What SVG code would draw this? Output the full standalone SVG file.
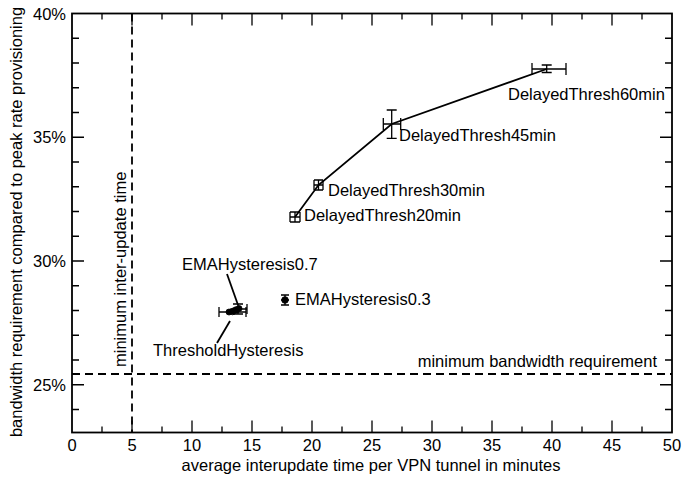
<svg xmlns="http://www.w3.org/2000/svg" width="699" height="477" viewBox="0 0 699 477">
<style>
text{font-family:"Liberation Sans",Arial,Helvetica,sans-serif;font-size:16.5px;fill:#000}
.ax{fill:none;stroke:#000;stroke-width:1.8}
.tk{fill:none;stroke:#000;stroke-width:1.3}
.dash{fill:none;stroke:#000;stroke-width:1.8;stroke-dasharray:8,5}
.eb{fill:none;stroke:#000;stroke-width:1.3}
.ln{fill:none;stroke:#000;stroke-width:1.8}
.mk{fill:#000;stroke:#000;stroke-width:0.8}
</style>
<rect width="699" height="477" fill="#fff"/>
<g id="axes">
<rect class="ax" x="72" y="13.5" width="600" height="419"/>
<path class="tk" d="M132 432.5v-12M192 432.5v-12M252 432.5v-12M312 432.5v-12M372 432.5v-12M432 432.5v-12M492 432.5v-12M552 432.5v-12M612 432.5v-12M102 432.5v-6M162 432.5v-6M222 432.5v-6M282 432.5v-6M342 432.5v-6M402 432.5v-6M462 432.5v-6M522 432.5v-6M582 432.5v-6M642 432.5v-6"/>
<path class="tk" d="M132 13.5v12M192 13.5v12M252 13.5v12M312 13.5v12M372 13.5v12M432 13.5v12M492 13.5v12M552 13.5v12M612 13.5v12M102 13.5v6M162 13.5v6M222 13.5v6M282 13.5v6M342 13.5v6M402 13.5v6M462 13.5v6M522 13.5v6M582 13.5v6M642 13.5v6"/>
<path class="tk" d="M72 137.25h12M72 261h12M72 384.75h12M72 38.25h7M72 63h7M72 87.75h7M72 112.5h7M72 162h7M72 186.75h7M72 211.5h7M72 236.25h7M72 285.75h7M72 310.5h7M72 335.25h7M72 360h7M72 409.5h7"/>
<path class="tk" d="M672 137.25h-12M672 261h-12M672 384.75h-12M672 38.25h-7M672 63h-7M672 87.75h-7M672 112.5h-7M672 162h-7M672 186.75h-7M672 211.5h-7M672 236.25h-7M672 285.75h-7M672 310.5h-7M672 335.25h-7M672 360h-7M672 409.5h-7"/>
<g text-anchor="end">
<text x="66" y="19.5">40%</text>
<text x="66" y="143.25">35%</text>
<text x="66" y="267">30%</text>
<text x="66" y="390.75">25%</text>
</g>
<g text-anchor="middle">
<text x="72" y="451">0</text>
<text x="132" y="451">5</text>
<text x="192" y="451">10</text>
<text x="252" y="451">15</text>
<text x="312" y="451">20</text>
<text x="372" y="451">25</text>
<text x="432" y="451">30</text>
<text x="492" y="451">35</text>
<text x="552" y="451">40</text>
<text x="612" y="451">45</text>
<text x="672" y="451">50</text>
<text x="371" y="471">average interupdate time per VPN tunnel in minutes</text>
<text transform="translate(22,222) rotate(-90)">bandwidth requirement compared to peak rate provisioning</text>
</g>
</g>
<g id="min-inter-update">
<path class="dash" d="M132 13.5V432.5"/>
<text transform="translate(126,367) rotate(-90)">minimum inter-update time</text>
</g>
<g id="min-bandwidth">
<path class="dash" d="M72 374H672"/>
<text x="657" y="367" text-anchor="end">minimum bandwidth requirement</text>
</g>
<g id="connectors">
<path class="ln" d="M295 217L318.5 185L391.7 124L546.7 69"/>
<path class="ln" d="M227 274L238 305"/>
<path class="ln" d="M217 343L230 321"/>
</g>
<g id="DelayedThresh60min">
<path class="eb" d="M532 69H566M532 63V75M566 63V75M546.7 65V72.5M541.7 65H551.7M541.7 72.5H551.7"/>
<text x="508" y="100">DelayedThresh60min</text>
</g>
<g id="DelayedThresh45min">
<path class="eb" d="M391.7 110V138.3M386.7 110H396.7M386.7 138.3H396.7M383.3 124H400.7M383.3 118V130M400.7 118V130"/>
<text x="399" y="141">DelayedThresh45min</text>
</g>
<g id="DelayedThresh30min">
<path class="eb" d="M314 185H323M314 180V190M323 180V190M318.5 180V190M314 180H323M314 190H323"/>
<text x="328" y="196">DelayedThresh30min</text>
</g>
<g id="DelayedThresh20min">
<path class="eb" d="M290 217H300M290 212V222M300 212V222M295 212V222M290 212H300M290 222H300"/>
<text x="304" y="221">DelayedThresh20min</text>
</g>
<g id="EMAHysteresis0.3">
<path class="eb" d="M285 295V305M281 295H289M281 305H289M281 300H289"/>
<circle class="mk" cx="285" cy="300" r="3.3"/>
<text x="295" y="305">EMAHysteresis0.3</text>
</g>
<g id="EMAHysteresis0.7">
<path class="eb" d="M232 309H247M247 304V314M238 304V314M233 304H243M233 314H243"/>
<circle class="mk" cx="236" cy="310" r="3.3"/>
<circle class="mk" cx="239" cy="308.5" r="3"/>
<text x="182" y="270">EMAHysteresis0.7</text>
</g>
<g id="ThresholdHysteresis">
<path class="eb" d="M219 312H246M219 307V317M246 307V317"/>
<circle class="mk" cx="229" cy="312" r="3"/>
<circle class="mk" cx="232.5" cy="311.5" r="3.3"/>
<text x="153" y="356">ThresholdHysteresis</text>
</g>
</svg>
